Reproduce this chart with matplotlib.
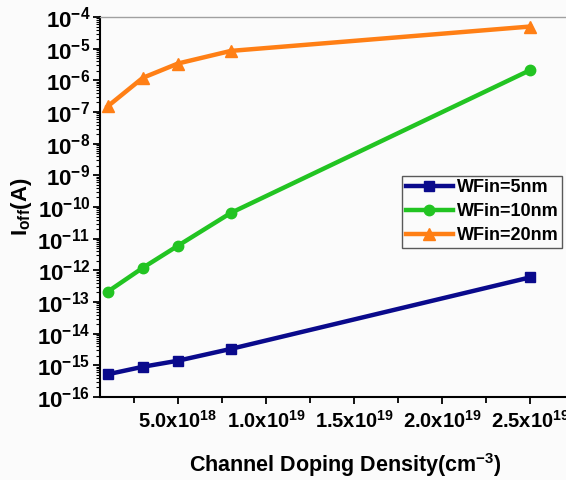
import numpy as np
import matplotlib
matplotlib.use("Agg")
import matplotlib.pyplot as plt
from matplotlib.ticker import LogLocator, NullFormatter, MultipleLocator

plt.rcParams['font.family'] = ['Liberation Sans', 'DejaVu Sans']
plt.rcParams['font.weight'] = 'bold'
plt.rcParams['axes.labelweight'] = 'bold'
plt.rcParams['mathtext.fontset'] = 'custom'
plt.rcParams['mathtext.rm'] = 'Liberation Sans:bold'
plt.rcParams['mathtext.bf'] = 'Liberation Sans:bold'
plt.rcParams['mathtext.it'] = 'Liberation Sans:bold'
plt.rcParams['mathtext.default'] = 'bf'

# Channel doping density (cm^-3)
doping = [1.0e18, 3.0e18, 5.0e18, 8.0e18, 2.5e19]

# Off-state current (A) for each fin width
ioff_5nm = [5.2e-16, 9.0e-16, 1.4e-15, 3.3e-15, 6.0e-13]
ioff_10nm = [2.1e-13, 1.2e-12, 6.0e-12, 6.5e-11, 2.1e-6]
ioff_20nm = [1.5e-7, 1.2e-6, 3.4e-6, 8.5e-6, 5.0e-5]

series_labels = ['WFin=5nm', 'WFin=10nm', 'WFin=20nm']

x_ticks = [5.0e18, 1.0e19, 1.5e19, 2.0e19, 2.5e19]
x_tick_labels = [r'5.0x10$^{18}$', r'1.0x10$^{19}$', r'1.5x10$^{19}$',
                 r'2.0x10$^{19}$', r'2.5x10$^{19}$']
y_exponents = list(range(-16, -3))

fig = plt.figure(figsize=(5.66, 4.8), dpi=100)
fig.patch.set_facecolor('#fbfbfb')
ax = fig.add_axes([100/566, 1-397/480, 490/566, 380/480])
ax.set_facecolor('#fbfbfb')

ax.plot(doping, ioff_5nm, color='#0a0a8c', lw=3.2, marker='s', ms=6.5,
        label=series_labels[0])
ax.plot(doping, ioff_10nm, color='#22c422', lw=3.2, marker='o', ms=7.5,
        label=series_labels[1])
ax.plot(doping, ioff_20nm, color='#ff7f15', lw=3.2, marker='^', ms=8.5,
        label=series_labels[2])

ax.set_yscale('log')
ax.set_ylim(1e-16, 1e-4)
ax.set_xlim(0.57e18, 2.84e19)

ax.set_yticks([10.0**e for e in y_exponents])
ax.set_yticklabels([r'10$^{%d}$' % e for e in y_exponents])
ax.yaxis.set_minor_locator(LogLocator(base=10, subs=np.arange(2, 10), numticks=100))
ax.yaxis.set_minor_formatter(NullFormatter())

ax.set_xticks(x_ticks)
ax.set_xticklabels(x_tick_labels)
ax.xaxis.set_minor_locator(MultipleLocator(2.5e18))

ax.tick_params(axis='y', which='major', direction='out', length=5, width=1.3,
               labelsize=16, pad=2)
ax.tick_params(axis='x', which='major', direction='out', length=5, width=1.3,
               labelsize=14.5, pad=4)
ax.tick_params(axis='y', which='minor', direction='out', length=3, width=0.8)
ax.tick_params(axis='x', which='minor', direction='out', length=4, width=1.3)

ax.spines['right'].set_visible(False)
ax.spines['top'].set_color('#a0a0a0')
ax.spines['top'].set_linewidth(1.0)
ax.spines['left'].set_linewidth(1.5)
ax.spines['bottom'].set_linewidth(1.5)

ax.set_xlabel(r'Channel Doping Density(cm$^{-3}$)', fontsize=15.5, labelpad=14)
ax.set_ylabel(r'I$_{\rm off}$(A)', fontsize=16, labelpad=2)

leg = ax.legend(loc='upper left', bbox_to_anchor=(0.617, 0.582), fontsize=13,
                frameon=True, fancybox=False, handlelength=2.6,
                borderpad=0.2, labelspacing=0.38, handletextpad=0.2,
                borderaxespad=0)
leg.get_frame().set_edgecolor('#303030')
leg.get_frame().set_linewidth(1.0)
leg.get_frame().set_facecolor('#fbfbfb')

fig.savefig('out.png', dpi=100, facecolor=fig.get_facecolor())
